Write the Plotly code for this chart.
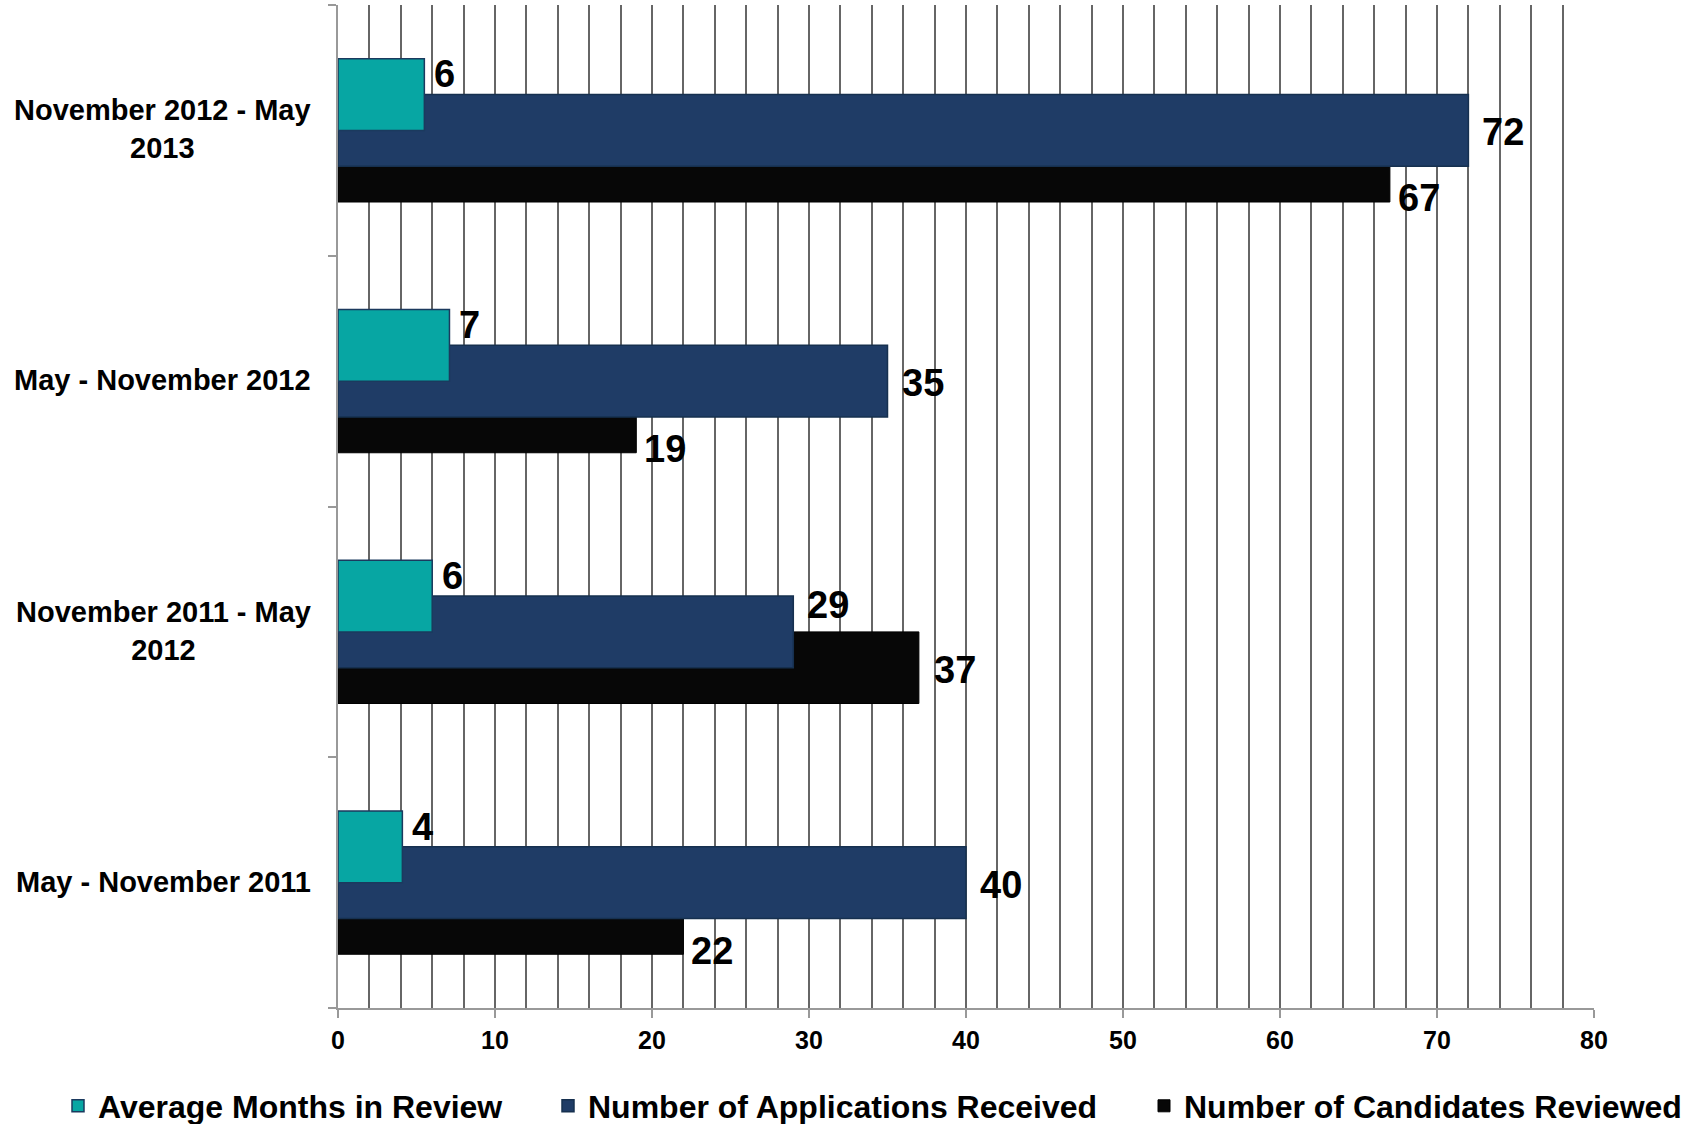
import plotly.graph_objects as go

# Categories listed bottom to top
categories = ["May - November 2011", "November 2011 - May 2012",
              "May - November 2012", "November 2012 - May 2013"]
category_labels = ["May - November 2011", "November 2011 - May<br>2012",
                   "May - November 2012", "November 2012 - May<br>2013"]
series_names = ["Average Months in Review", "Number of Applications Received",
                "Number of Candidates Reviewed"]
avg_months = [4.1, 6.0, 7.1, 5.5]
applications = [40, 29, 35, 72]
candidates = [22, 37, 19, 67]

x_ticks = [0, 10, 20, 30, 40, 50, 60, 70, 80]

FONT = "Liberation Sans, Arial, sans-serif"
W = 0.2857  # bar thickness in category units (50% overlap)

fig = go.Figure()
# draw order: black behind, blue, teal on top
fig.add_trace(go.Bar(
    y=categories, x=candidates, orientation="h", name=series_names[2],
    width=W, offset=-W, legend="legend3",
    marker=dict(color="#070707", line=dict(color="#000000", width=1)),
))
fig.add_trace(go.Bar(
    y=categories, x=applications, orientation="h", name=series_names[1],
    width=W, offset=-W / 2, legend="legend2",
    marker=dict(color="#1F3C66", line=dict(color="#16304F", width=1.5)),
))
fig.add_trace(go.Bar(
    y=categories, x=avg_months, orientation="h", name=series_names[0],
    width=W, offset=0, legend="legend",
    marker=dict(color="#07A6A3", line=dict(color="#1B3A5E", width=1.5)),
))

annotations = []
lab_font = dict(family=FONT, size=38, color="#000000", weight="bold")
for c, a, b, k in zip(categories, avg_months, applications, candidates):
    annotations.append(dict(x=a, y=c, xref="x", yref="y", text=str(int(a + 0.5)),
                            showarrow=False, xanchor="left", yanchor="middle",
                            xshift=8, yshift=56, font=lab_font))
    annotations.append(dict(x=b, y=c, xref="x", yref="y", text=str(b),
                            showarrow=False, xanchor="left", yanchor="middle",
                            xshift=12, yshift=(27 if k > b else -2), font=lab_font))
    annotations.append(dict(x=k, y=c, xref="x", yref="y", text=str(k),
                            showarrow=False, xanchor="left", yanchor="middle",
                            xshift=(13 if k > b else 6), yshift=(-38 if k > b else -68),
                            font=lab_font))
for c, lab in zip(categories, category_labels):
    annotations.append(dict(x=0, y=c, xref="paper", yref="y", text=lab,
                            showarrow=False, xanchor="right", yanchor="middle",
                            align="center", xshift=-25, yshift=1,
                            font=dict(family=FONT, size=29, color="#000000", weight="bold")))

leg_font = dict(family=FONT, size=32, color="#000000", weight="bold")
def leg(xpx):
    return dict(orientation="h", xref="container", yref="container",
                x=xpx / 1698, xanchor="left", y=1 - 1106 / 1124, yanchor="middle",
                font=leg_font, itemwidth=30, bgcolor="rgba(0,0,0,0)")

fig.update_layout(
    width=1698, height=1124,
    margin=dict(l=338, r=104, t=5, b=116),
    plot_bgcolor="white", paper_bgcolor="white",
    barmode="overlay",
    font=dict(family=FONT, color="#000000", weight="bold"),
    showlegend=True,
    legend=leg(58), legend2=leg(548), legend3=leg(1144),
    annotations=annotations,
    xaxis=dict(range=[0, 80], tickvals=x_ticks, ticktext=[str(t) for t in x_ticks],
               showgrid=True, gridcolor="#666666", gridwidth=1.5,
               minor=dict(dtick=2, showgrid=True, gridcolor="#666666", gridwidth=1.5,
                          ticks=""),
               showline=True, linecolor="#999999", linewidth=1.5,
               ticks="outside", ticklen=8, tickcolor="#999999", tickwidth=1.5,
               ticklabelstandoff=1,
               tickfont=dict(family=FONT, size=25, color="#000000", weight="bold"),
               zeroline=False, fixedrange=True),
    yaxis=dict(type="category", categoryorder="array", categoryarray=categories,
               range=[-0.5, 3.5], showticklabels=False, tickson="boundaries",
               ticks="outside", ticklen=8, tickcolor="#999999", tickwidth=1.5,
               showline=True, linecolor="#999999", linewidth=1.5,
               showgrid=False, zeroline=False, fixedrange=True),
)

fig.write_html("out.html")
